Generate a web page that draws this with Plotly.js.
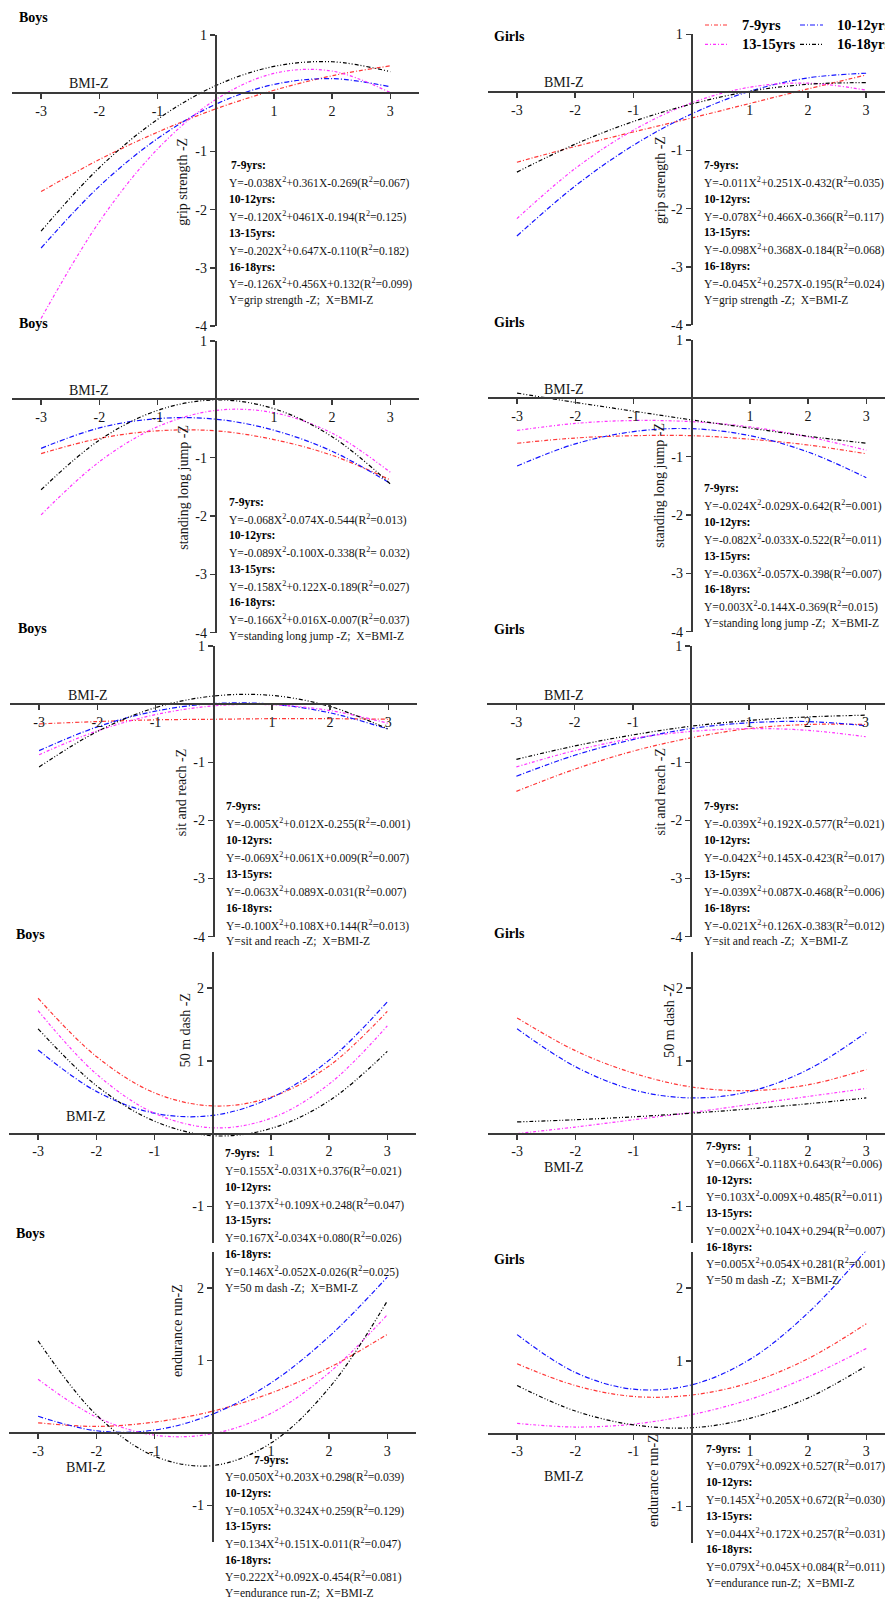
<!DOCTYPE html>
<html><head><meta charset="utf-8">
<script src="https://cdn.plot.ly/plotly-3.0.1.min.js"></script>
<style>html,body{margin:0;padding:0;background:#fff;overflow:hidden}#chart{width:885px;height:1599px}</style>
</head><body><div id="chart"></div>
<script>
// ---------- DATA ----------
const xValues = [-3, -2, -1, 0, 1, 2, 3];
const ageGroups = ['7-9yrs', '10-12yrs', '13-15yrs', '16-18yrs'];
const xTickVals = [-3, -2, -1, 1, 2, 3];
const xTickText = ['-3', '-2', '-1', '1', '2', '3'];

// Boys grip strength
const boysGrip7to9   = [-1.69, -1.14, -0.67, -0.27, 0.05, 0.30, 0.47];
const boysGrip10to12 = [-2.66, -1.60, -0.78, -0.19, 0.15, 0.25, 0.11];
const boysGrip13to15 = [-3.87, -2.21, -0.96, -0.11, 0.34, 0.38, 0.01];
const boysGrip16to18 = [-2.37, -1.28, -0.45, 0.13, 0.46, 0.54, 0.37];
// Girls grip strength
const girlsGrip7to9   = [-1.20, -0.93, -0.68, -0.44, -0.19, 0.06, 0.30];
const girlsGrip10to12 = [-2.47, -1.61, -0.91, -0.37, 0.02, 0.25, 0.33];
const girlsGrip13to15 = [-2.17, -1.31, -0.65, -0.18, 0.09, 0.16, 0.04];
const girlsGrip16to18 = [-1.37, -0.89, -0.50, -0.20, 0.02, 0.14, 0.17];
// Boys standing long jump
const boysJump7to9   = [-0.93, -0.67, -0.54, -0.54, -0.69, -0.96, -1.38];
const boysJump10to12 = [-0.84, -0.49, -0.33, -0.34, -0.53, -0.89, -1.44];
const boysJump13to15 = [-1.98, -1.07, -0.47, -0.19, -0.23, -0.58, -1.25];
const boysJump16to18 = [-1.55, -0.70, -0.19, -0.01, -0.16, -0.64, -1.45];
// Girls standing long jump
const girlsJump7to9   = [-0.77, -0.68, -0.64, -0.64, -0.70, -0.80, -0.95];
const girlsJump10to12 = [-1.16, -0.78, -0.57, -0.52, -0.64, -0.92, -1.36];
const girlsJump13to15 = [-0.55, -0.43, -0.38, -0.40, -0.49, -0.66, -0.89];
const girlsJump16to18 = [0.09, -0.07, -0.22, -0.37, -0.51, -0.65, -0.77];
// Boys sit and reach
const boysReach7to9   = [-0.34, -0.30, -0.27, -0.26, -0.25, -0.25, -0.26];
const boysReach10to12 = [-0.80, -0.39, -0.12, 0.01, 0.00, -0.15, -0.43];
const boysReach13to15 = [-0.87, -0.46, -0.18, -0.03, -0.01, -0.11, -0.33];
const boysReach16to18 = [-1.08, -0.47, -0.06, 0.14, 0.15, -0.04, -0.43];
// Girls sit and reach
const girlsReach7to9   = [-1.50, -1.12, -0.81, -0.58, -0.42, -0.35, -0.35];
const girlsReach10to12 = [-1.24, -0.88, -0.61, -0.42, -0.32, -0.30, -0.37];
const girlsReach13to15 = [-1.08, -0.80, -0.59, -0.47, -0.42, -0.45, -0.56];
const girlsReach16to18 = [-0.95, -0.72, -0.53, -0.38, -0.28, -0.22, -0.19];
// Boys 50 m dash
const boysDash7to9   = [1.86, 1.06, 0.56, 0.38, 0.50, 0.93, 1.68];
const boysDash10to12 = [1.15, 0.58, 0.28, 0.25, 0.49, 1.01, 1.81];
const boysDash13to15 = [1.69, 0.82, 0.28, 0.08, 0.21, 0.68, 1.48];
const boysDash16to18 = [1.44, 0.66, 0.17, -0.03, 0.07, 0.45, 1.13];
// Girls 50 m dash
const girlsDash7to9   = [1.59, 1.14, 0.83, 0.64, 0.59, 0.67, 0.88];
const girlsDash10to12 = [1.44, 0.92, 0.60, 0.49, 0.58, 0.88, 1.39];
const girlsDash13to15 = [0.00, 0.09, 0.19, 0.29, 0.40, 0.51, 0.62];
const girlsDash16to18 = [0.16, 0.19, 0.23, 0.28, 0.34, 0.41, 0.49];
// Boys endurance run
const boysRun7to9   = [0.14, 0.09, 0.15, 0.30, 0.55, 0.90, 1.36];
const boysRun10to12 = [0.23, 0.03, 0.04, 0.26, 0.69, 1.33, 2.15];
const boysRun13to15 = [0.74, 0.22, -0.03, -0.01, 0.27, 0.83, 1.63];
const boysRun16to18 = [1.27, 0.25, -0.32, -0.45, -0.14, 0.62, 1.82];
// Girls endurance run
const girlsRun7to9   = [0.96, 0.66, 0.51, 0.53, 0.70, 1.03, 1.51];
const girlsRun10to12 = [1.36, 0.84, 0.61, 0.67, 1.02, 1.66, 2.52];
const girlsRun13to15 = [0.14, 0.09, 0.13, 0.26, 0.47, 0.78, 1.17];
const girlsRun16to18 = [0.66, 0.31, 0.12, 0.08, 0.21, 0.49, 0.93];

// Equation texts
const boysGripEq = ['Y=-0.038X<sup>2</sup>+0.361X-0.269(R<sup>2</sup>=0.067)','Y=-0.120X<sup>2</sup>+0461X-0.194(R<sup>2</sup>=0.125)','Y=-0.202X<sup>2</sup>+0.647X-0.110(R<sup>2</sup>=0.182)','Y=-0.126X<sup>2</sup>+0.456X+0.132(R<sup>2</sup>=0.099)','Y=grip strength -Z;  X=BMI-Z'];
const girlsGripEq = ['Y=-0.011X<sup>2</sup>+0.251X-0.432(R<sup>2</sup>=0.035)','Y=-0.078X<sup>2</sup>+0.466X-0.366(R<sup>2</sup>=0.117)','Y=-0.098X<sup>2</sup>+0.368X-0.184(R<sup>2</sup>=0.068)','Y=-0.045X<sup>2</sup>+0.257X-0.195(R<sup>2</sup>=0.024)','Y=grip strength -Z;  X=BMI-Z'];
const boysJumpEq = ['Y=-0.068X<sup>2</sup>-0.074X-0.544(R<sup>2</sup>=0.013)','Y=-0.089X<sup>2</sup>-0.100X-0.338(R<sup>2</sup>= 0.032)','Y=-0.158X<sup>2</sup>+0.122X-0.189(R<sup>2</sup>=0.027)','Y=-0.166X<sup>2</sup>+0.016X-0.007(R<sup>2</sup>=0.037)','Y=standing long jump -Z;  X=BMI-Z'];
const girlsJumpEq = ['Y=-0.024X<sup>2</sup>-0.029X-0.642(R<sup>2</sup>=0.001)','Y=-0.082X<sup>2</sup>-0.033X-0.522(R<sup>2</sup>=0.011)','Y=-0.036X<sup>2</sup>-0.057X-0.398(R<sup>2</sup>=0.007)','Y=0.003X<sup>2</sup>-0.144X-0.369(R<sup>2</sup>=0.015)','Y=standing long jump -Z;  X=BMI-Z'];
const boysReachEq = ['Y=-0.005X<sup>2</sup>+0.012X-0.255(R<sup>2</sup>=-0.001)','Y=-0.069X<sup>2</sup>+0.061X+0.009(R<sup>2</sup>=0.007)','Y=-0.063X<sup>2</sup>+0.089X-0.031(R<sup>2</sup>=0.007)','Y=-0.100X<sup>2</sup>+0.108X+0.144(R<sup>2</sup>=0.013)','Y=sit and reach -Z;  X=BMI-Z'];
const girlsReachEq = ['Y=-0.039X<sup>2</sup>+0.192X-0.577(R<sup>2</sup>=0.021)','Y=-0.042X<sup>2</sup>+0.145X-0.423(R<sup>2</sup>=0.017)','Y=-0.039X<sup>2</sup>+0.087X-0.468(R<sup>2</sup>=0.006)','Y=-0.021X<sup>2</sup>+0.126X-0.383(R<sup>2</sup>=0.012)','Y=sit and reach -Z;  X=BMI-Z'];
const boysDashEq = ['Y=0.155X<sup>2</sup>-0.031X+0.376(R<sup>2</sup>=0.021)','Y=0.137X<sup>2</sup>+0.109X+0.248(R<sup>2</sup>=0.047)','Y=0.167X<sup>2</sup>-0.034X+0.080(R<sup>2</sup>=0.026)','Y=0.146X<sup>2</sup>-0.052X-0.026(R<sup>2</sup>=0.025)','Y=50 m dash -Z;  X=BMI-Z'];
const girlsDashEq = ['Y=0.066X<sup>2</sup>-0.118X+0.643(R<sup>2</sup>=0.006)','Y=0.103X<sup>2</sup>-0.009X+0.485(R<sup>2</sup>=0.011)','Y=0.002X<sup>2</sup>+0.104X+0.294(R<sup>2</sup>=0.007)','Y=0.005X<sup>2</sup>+0.054X+0.281(R<sup>2</sup>=0.001)','Y=50 m dash -Z;  X=BMI-Z'];
const boysRunEq = ['Y=0.050X<sup>2</sup>+0.203X+0.298(R<sup>2</sup>=0.039)','Y=0.105X<sup>2</sup>+0.324X+0.259(R<sup>2</sup>=0.129)','Y=0.134X<sup>2</sup>+0.151X-0.011(R<sup>2</sup>=0.047)','Y=0.222X<sup>2</sup>+0.092X-0.454(R<sup>2</sup>=0.081)','Y=endurance run-Z;  X=BMI-Z'];
const girlsRunEq = ['Y=0.079X<sup>2</sup>+0.092X+0.527(R<sup>2</sup>=0.017)','Y=0.145X<sup>2</sup>+0.205X+0.672(R<sup>2</sup>=0.030)','Y=0.044X<sup>2</sup>+0.172X+0.257(R<sup>2</sup>=0.031)','Y=0.079X<sup>2</sup>+0.045X+0.084(R<sup>2</sup>=0.011)','Y=endurance run-Z;  X=BMI-Z'];

// ---------- LAYOUT / STYLE ----------
const W = 885, H = 1599, SX = 58.2;
const fx = p => p / W;
const fy = p => 1 - p / H;
const FONT = 'Liberation Serif, Times New Roman, serif';
const COLORS = ['rgb(255,55,55)', 'rgb(20,20,255)', 'rgb(255,50,255)', 'rgb(0,0,0)'];
const DASHES = ['4px,2px,1px,2px', '5px,2px,1px,2px', '3px,2px,1px,2px', '4px,2px,1px,2px,1px,2px'];
const TEXTC = '#151515';
const AXC = '#3a3a3a';
const EQSIZE = 11.6;

const panels = [
  {series:[boysGrip7to9,boysGrip10to12,boysGrip13to15,boysGrip16to18], eq:boysGripEq, x0:215.7, top:35, bot:326, yr:[-4,1], yt:[1,-1,-2,-3,-4], ytitle:'grip strength -Z', yttl:[183,181.7], bmi:[88.7,83.3], grp:'Boys', grpPos:[17,18], eqPos:[227,229,165.7,16.9]},
  {series:[girlsGrip7to9,girlsGrip10to12,girlsGrip13to15,girlsGrip16to18], eq:girlsGripEq, x0:691.5, top:34.3, bot:325, yr:[-4,1], yt:[1,-1,-2,-3,-4], ytitle:'grip strength -Z', yttl:[661,180], bmi:[564.2,82.7], grp:'Girls', grpPos:[492.3,36.7], eqPos:[701.7,701.7,165.7,16.8]},
  {series:[boysJump7to9,boysJump10to12,boysJump13to15,boysJump16to18], eq:boysJumpEq, x0:215.7, top:341, bot:632.7, yr:[-4,1], yt:[1,-1,-2,-3,-4], ytitle:'standing long jump -Z', yttl:[183.3,487.5], bmi:[88.7,390], grp:'Boys', grpPos:[17,323.3], eqPos:[226.7,226.7,502.3,16.75]},
  {series:[girlsJump7to9,girlsJump10to12,girlsJump13to15,girlsJump16to18], eq:girlsJumpEq, x0:691.7, top:340, bot:631.7, yr:[-4,1], yt:[1,-1,-2,-3,-4], ytitle:'standing long jump -Z', yttl:[660,485.8], bmi:[564.2,389], grp:'Girls', grpPos:[492.3,322.3], eqPos:[701.7,701.7,489,16.8]},
  {series:[boysReach7to9,boysReach10to12,boysReach13to15,boysReach16to18], eq:boysReachEq, x0:213.7, top:646, bot:936.7, yr:[-4,1], yt:[1,-1,-2,-3,-4], ytitle:'sit and reach -Z', yttl:[181.7,792.5], bmi:[87.5,695], grp:'Boys', grpPos:[15.7,628.3], eqPos:[224,224,806.7,16.9]},
  {series:[girlsReach7to9,girlsReach10to12,girlsReach13to15,girlsReach16to18], eq:girlsReachEq, x0:691, top:646, bot:936.7, yr:[-4,1], yt:[1,-1,-2,-3,-4], ytitle:'sit and reach -Z', yttl:[660,792.5], bmi:[564.2,695], grp:'Girls', grpPos:[492.3,629], eqPos:[701.7,701.7,806.7,16.9]},
  {series:[boysDash7to9,boysDash10to12,boysDash13to15,boysDash16to18], eq:boysDashEq, x0:212.7, top:951.7, bot:1242.7, yr:[-1.5,2.5], yt:[2,1,-1], ytitle:'50 m dash -Z', yttl:[185,1030.3], bmi:[85.5,1116], grp:'Boys', grpPos:[14,934], eqPos:[222.7,222.7,1153.3,16.9]},
  {series:[girlsDash7to9,girlsDash10to12,girlsDash13to15,girlsDash16to18], eq:girlsDashEq, x0:691.7, top:951.7, bot:1242.7, yr:[-1.5,2.5], yt:[2,1,-1], ytitle:'50 m dash -Z', yttl:[670,1020.8], bmi:[564.2,1167.3], grp:'Girls', grpPos:[492.3,933.3], eqPos:[704.3,704.3,1146.7,16.75]},
  {series:[boysRun7to9,boysRun10to12,boysRun13to15,boysRun16to18], eq:boysRunEq, x0:212.7, top:1251.7, bot:1541.7, yr:[-1.5,2.5], yt:[2,1,-1], ytitle:'endurance run-Z', yttl:[178.3,1330.8], bmi:[85.5,1467.3], grp:'Boys', grpPos:[14,1233.3], eqPos:[222.7,251.7,1460,16.7]},
  {series:[girlsRun7to9,girlsRun10to12,girlsRun13to15,girlsRun16to18], eq:girlsRunEq, x0:691.7, top:1251.7, bot:1542.7, yr:[-1.5,2.5], yt:[2,1,-1], ytitle:'endurance run-Z', yttl:[654.3,1480.8], bmi:[564.2,1476.7], grp:'Girls', grpPos:[492.3,1259], eqPos:[704.3,704.3,1449,16.8]}
];

const traces = [];
const layout = {
  width: W, height: H,
  margin: {l: 0, r: 0, t: 0, b: 0},
  paper_bgcolor: '#fff', plot_bgcolor: 'rgba(0,0,0,0)',
  showlegend: false,
  font: {family: FONT, color: TEXTC},
  annotations: [], shapes: []
};

function ann(text, px, py, opts) {
  layout.annotations.push(Object.assign({
    text: text, xref: 'paper', yref: 'paper', x: fx(px), y: fy(py),
    xanchor: 'left', yanchor: 'middle', showarrow: false,
    font: {family: FONT, size: EQSIZE, color: TEXTC}
  }, opts || {}));
}

panels.forEach((p, i) => {
  const k = i + 1;
  const xa = 'xaxis' + (k === 1 ? '' : k), ya = 'yaxis' + (k === 1 ? '' : k);
  const xr = 'x' + (k === 1 ? '' : k), yrf = 'y' + (k === 1 ? '' : k);
  const left = p.x0 - 3.5 * SX;
  const right = Math.min(W, p.x0 + 3.5 * SX);
  const xmax = (right - p.x0) / SX;
  const y0px = p.top + (p.yr[1] / (p.yr[1] - p.yr[0])) * (p.bot - p.top);
  layout[xa] = {
    domain: [fx(left), fx(right)], range: [-3.5, xmax], anchor: 'free', position: fy(y0px),
    showline: true, linewidth: 2, linecolor: AXC, zeroline: false, showgrid: false,
    ticks: 'outside', ticklen: 5, tickwidth: 1.5, tickcolor: AXC,
    tickmode: 'array', tickvals: xTickVals, ticktext: xTickText,
    tickfont: {family: FONT, size: 14, color: TEXTC}, automargin: false, fixedrange: true
  };
  layout[ya] = {
    domain: [fy(p.bot), fy(p.top)], range: p.yr, anchor: 'free', position: fx(p.x0),
    showline: true, linewidth: 2, linecolor: AXC, zeroline: false, showgrid: false,
    ticks: 'outside', ticklen: 5, tickwidth: 1.5, tickcolor: AXC,
    tickmode: 'array', tickvals: p.yt, ticktext: p.yt.map(v => String(v)),
    tickfont: {family: FONT, size: 14, color: TEXTC}, automargin: false, fixedrange: true
  };
  p.series.forEach((ys, s) => {
    traces.push({
      type: 'scatter', mode: 'lines', x: xValues, y: ys, name: ageGroups[s],
      xaxis: xr, yaxis: yrf, hoverinfo: 'skip', showlegend: false,
      line: {color: COLORS[s], width: 1.2, dash: DASHES[s], shape: 'spline', smoothing: 1}
    });
  });
  ann('<b>' + p.grp + '</b>', p.grpPos[0], p.grpPos[1], {font: {family: FONT, size: 14, color: '#000'}});
  ann('BMI-Z', p.bmi[0], p.bmi[1], {xanchor: 'center', font: {family: FONT, size: 14, color: TEXTC}});
  ann(p.ytitle, p.yttl[0], p.yttl[1], {xanchor: 'center', textangle: -90, font: {family: FONT, size: 14, color: TEXTC}});
  const [ex, ex1, ey, dy] = p.eqPos;
  for (let j = 0; j < 4; j++) {
    ann('<b>' + ageGroups[j] + ':</b>', j === 0 ? ex1 : ex, ey + dy * (2 * j), {font: {family: FONT, size: EQSIZE, color: '#000'}});
    ann(p.eq[j], ex, ey + dy * (2 * j + 1));
  }
  ann(p.eq[4], ex, ey + dy * 8);
});

// legend (top right)
const legPos = [[705, 740, 25], [800, 835, 25], [705, 740, 44.3], [800, 835, 44.3]];
ageGroups.forEach((g, s) => {
  const [l0, tx, ly] = legPos[s];
  layout.shapes.push({type: 'line', xref: 'paper', yref: 'paper', x0: fx(l0), x1: fx(l0 + 23), y0: fy(ly), y1: fy(ly),
    line: {color: COLORS[s], width: 1.2, dash: DASHES[s]}});
  ann('<b>' + g + '</b>', tx, ly, {font: {family: FONT, size: 14.5, color: '#000'}});
});

Plotly.newPlot('chart', traces, layout, {displayModeBar: false, staticPlot: true});
</script></body></html>
